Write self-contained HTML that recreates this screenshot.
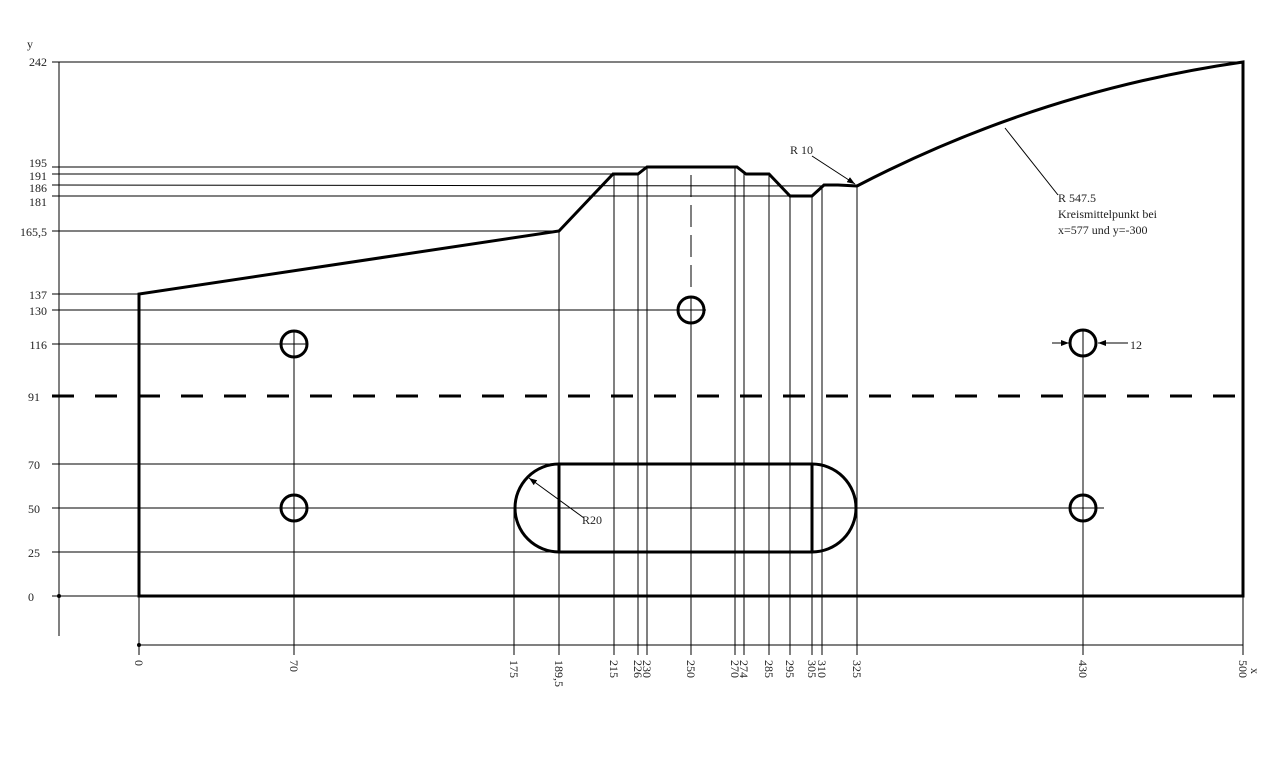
<!DOCTYPE html>
<html><head><meta charset="utf-8"><style>html,body{margin:0;padding:0;background:#fff}svg{display:block}text{font-family:"Liberation Serif",serif;font-size:12px;fill:#222}</style></head>
<body>
<svg width="1264" height="760" viewBox="0 0 1264 760" xmlns="http://www.w3.org/2000/svg">
<defs><marker id="a" markerWidth="8" markerHeight="6" refX="8" refY="3" orient="auto" markerUnits="userSpaceOnUse"><path d="M0,0 L8,3 L0,6z" fill="#000"/></marker></defs>
<g stroke="#000" stroke-width="1" fill="none">
<!-- y axis -->
<line x1="59" y1="62" x2="59" y2="636"/>
<line x1="139" y1="645" x2="1243" y2="645"/>
<!-- horizontal thin -->
<line x1="52" y1="62" x2="1243" y2="62"/>
<line x1="52" y1="167" x2="647" y2="167"/>
<line x1="52" y1="174" x2="640" y2="174"/>
<line x1="52" y1="185" x2="857" y2="186"/>
<line x1="52" y1="196" x2="812" y2="196"/>
<line x1="52" y1="231" x2="559" y2="231"/>
<line x1="52" y1="294" x2="139" y2="294"/>
<line x1="52" y1="310" x2="706" y2="310"/>
<line x1="52" y1="344" x2="308" y2="344"/>
<line x1="52" y1="464" x2="559" y2="464"/>
<line x1="52" y1="508" x2="1104" y2="508"/>
<line x1="52" y1="552" x2="559" y2="552"/>
<line x1="52" y1="596" x2="139" y2="596"/>
<!-- verticals -->
<line x1="139" y1="596" x2="139" y2="655"/>
<line x1="294" y1="330" x2="294" y2="655"/>
<line x1="514" y1="508" x2="514" y2="655"/>
<line x1="559" y1="231" x2="559" y2="655"/>
<line x1="614" y1="174" x2="614" y2="655"/>
<line x1="638" y1="174" x2="638" y2="655"/>
<line x1="647" y1="167" x2="647" y2="655"/>
<line x1="691" y1="175" x2="691" y2="290" stroke-dasharray="22,8"/>
<line x1="691" y1="296" x2="691" y2="655"/>
<line x1="735" y1="167" x2="735" y2="655"/>
<line x1="744" y1="174" x2="744" y2="655"/>
<line x1="769" y1="174" x2="769" y2="655"/>
<line x1="790" y1="196" x2="790" y2="655"/>
<line x1="812" y1="196" x2="812" y2="655"/>
<line x1="822" y1="185" x2="822" y2="655"/>
<line x1="857" y1="186" x2="857" y2="655"/>
<line x1="1083" y1="330" x2="1083" y2="655"/>
<line x1="1243" y1="596" x2="1243" y2="655"/>
<!-- leaders -->
<line x1="1058" y1="195" x2="1005" y2="128"/>
<line x1="812" y1="156" x2="855" y2="184" marker-end="url(#a)"/>
<line x1="584" y1="518" x2="529" y2="478" marker-end="url(#a)"/>
<line x1="1052" y1="343" x2="1069" y2="343" marker-end="url(#a)"/>
<line x1="1128" y1="343" x2="1098" y2="343" marker-end="url(#a)"/>
<line x1="1070" y1="508" x2="1104" y2="508"/>
</g>
<circle cx="59" cy="596" r="2" fill="#000"/>
<circle cx="139" cy="645" r="2" fill="#000"/>
<g stroke="#000" stroke-width="3" fill="none">
<line x1="52" y1="396" x2="1243" y2="396" stroke-dasharray="22,21"/>
<path d="M139,596 L139,294 L559,231 L613,174 L638,174 L647,167 L737,167 L746,174 L769,174 L790,196 L812,196 L824,185 L838,185 L857,186 A1208,1208 0 0 1 1243,62 L1243,596 Z"/>
<path d="M559,464 L812,464 A44,44 0 0 1 812,552 L559,552 A44,44 0 0 1 559,464 Z"/>
<line x1="559" y1="464" x2="559" y2="552"/>
<line x1="812" y1="464" x2="812" y2="552"/>
<circle cx="294" cy="344" r="13"/>
<circle cx="294" cy="508" r="13"/>
<circle cx="691" cy="310" r="13"/>
<circle cx="1083" cy="343" r="13"/>
<circle cx="1083" cy="508" r="13"/>
</g>
<g text-anchor="end">
<text x="47" y="66">242</text>
<text x="47" y="167">195</text>
<text x="47" y="180">191</text>
<text x="47" y="192">186</text>
<text x="47" y="206">181</text>
<text x="47" y="236">165,5</text>
<text x="47" y="299">137</text>
<text x="47" y="315">130</text>
<text x="47" y="349">116</text>
<text x="40" y="401">91</text>
<text x="40" y="469">70</text>
<text x="40" y="513">50</text>
<text x="40" y="557">25</text>
<text x="34" y="601">0</text>
</g>
<text x="27" y="48">y</text>
<text x="1251" y="668" transform="rotate(90 1251 668)">x</text>
<g>
<text transform="translate(135,660) rotate(90)">0</text>
<text transform="translate(290,660) rotate(90)">70</text>
<text transform="translate(510,660) rotate(90)">175</text>
<text transform="translate(555,660) rotate(90)">189,5</text>
<text transform="translate(610,660) rotate(90)">215</text>
<text transform="translate(634,660) rotate(90)">226</text>
<text transform="translate(643,660) rotate(90)">230</text>
<text transform="translate(687,660) rotate(90)">250</text>
<text transform="translate(731,660) rotate(90)">270</text>
<text transform="translate(740,660) rotate(90)">274</text>
<text transform="translate(765,660) rotate(90)">285</text>
<text transform="translate(786,660) rotate(90)">295</text>
<text transform="translate(808,660) rotate(90)">305</text>
<text transform="translate(818,660) rotate(90)">310</text>
<text transform="translate(853,660) rotate(90)">325</text>
<text transform="translate(1079,660) rotate(90)">430</text>
<text transform="translate(1239,660) rotate(90)">500</text>
</g>
<text x="790" y="154">R 10</text>
<text x="1058" y="202">R 547.5</text>
<text x="1058" y="218">Kreismittelpunkt bei</text>
<text x="1058" y="234">x=577 und y=-300</text>
<text x="582" y="524">R20</text>
<text x="1130" y="349">12</text>
</svg>
</body></html>
